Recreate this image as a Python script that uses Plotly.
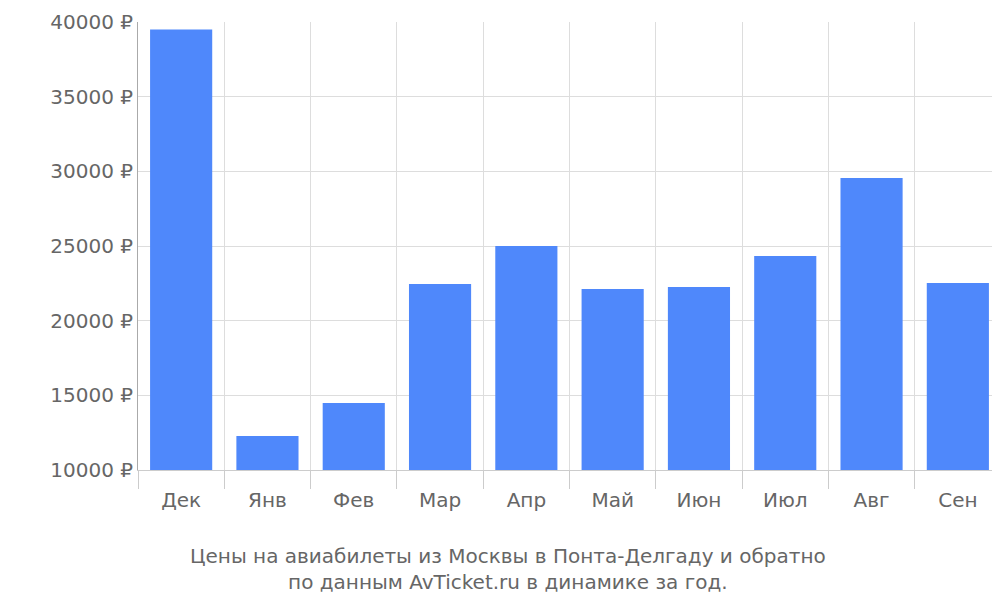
import plotly.graph_objects as go

months = ['Дек', 'Янв', 'Фев', 'Мар', 'Апр', 'Май', 'Июн', 'Июл', 'Авг', 'Сен']
prices = [39500, 12280, 14490, 22460, 25000, 22120, 22260, 24330, 29560, 22520]

pos = list(range(len(months)))
bounds = [p - 0.5 for p in pos] + [pos[-1] + 0.5]
font = dict(family='DejaVu Sans', size=20, color='#666666')

fig = go.Figure()
fig.add_trace(go.Bar(x=pos, y=prices, width=0.72, marker_color='#4f88fb',
                     marker_line_width=0, showlegend=False))
fig.add_trace(go.Scatter(x=[bounds[0]], y=[10000], xaxis='x2', mode='markers',
                         marker=dict(opacity=0), showlegend=False, hoverinfo='skip'))

fig.update_layout(
    width=1000, height=600,
    margin=dict(l=130, r=7, t=14, b=138, autoexpand=False),
    paper_bgcolor='white', plot_bgcolor='white',
    font=font,
    xaxis=dict(range=[bounds[0], bounds[-1]], tickvals=pos, ticktext=months,
               showgrid=False, ticks='', showline=True, linecolor='#cccccc',
               tickfont=font, ticklabelstandoff=12),
    xaxis2=dict(range=[bounds[0], bounds[-1]], overlaying='x', side='bottom',
                tickvals=bounds, ticktext=['' for _ in bounds], showgrid=True,
                gridcolor='#dddddd', ticks='outside', ticklen=18, tickcolor='#cccccc'),
    yaxis=dict(range=[10000, 40000], dtick=5000, tickformat='d', ticksuffix=' ₽',
               showgrid=True, gridcolor='#dddddd', showline=True, linecolor='#aaaaaa',
               tickfont=font, ticks='', zeroline=False),
)
fig.add_annotation(text='Цены на авиабилеты из Москвы в Понта-Делгаду и обратно<br>по данным AvTicket.ru в динамике за год.',
                   xref='paper', yref='paper', x=0.429, y=-0.16, yanchor='top',
                   showarrow=False, font=font)
fig.write_html('out.html')
